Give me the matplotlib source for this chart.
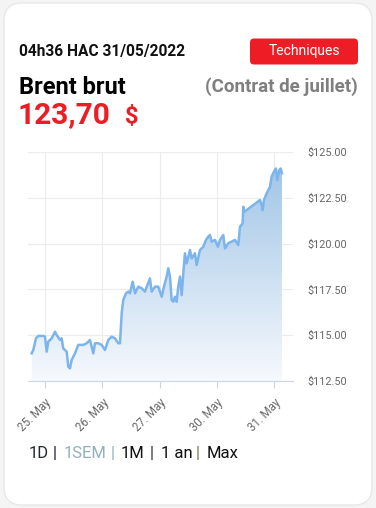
import numpy as np
import matplotlib
matplotlib.use("Agg")
import matplotlib.pyplot as plt
from matplotlib.patches import FancyBboxPatch
from matplotlib.colors import LinearSegmentedColormap

plt.rcParams['font.family'] = ['Roboto', 'DejaVu Sans']

# Brent price, x in trading days from 25 May (0 = 25 May, 4 = 31 May)
days = [-0.232, -0.204, -0.157, -0.117, -0.030, 0.000, 0.030, 0.058, 0.117, 0.175,
        0.204, 0.262, 0.291, 0.319, 0.379, 0.407, 0.436, 0.466, 0.524, 0.581,
        0.668, 0.728, 0.785, 0.815, 0.843, 0.873, 0.930, 0.990, 1.047, 1.105,
        1.164, 1.222, 1.279, 1.309, 1.339, 1.366, 1.414, 1.454, 1.483, 1.531,
        1.571, 1.628, 1.688, 1.745, 1.832, 1.862, 1.920, 1.977, 2.037, 2.077,
        2.124, 2.152, 2.182, 2.211, 2.239, 2.269, 2.298, 2.326, 2.356, 2.386,
        2.414, 2.443, 2.473, 2.531, 2.560, 2.618, 2.647, 2.705, 2.763, 2.810,
        2.850, 2.880, 2.909, 2.967, 3.019, 3.054, 3.112, 3.141, 3.199, 3.258,
        3.316, 3.373, 3.403, 3.450, 3.461, 3.478, 3.635, 3.752, 3.782, 3.799,
        3.822, 3.869, 3.927, 3.955, 3.995, 4.031, 4.054, 4.089, 4.113, 4.136]
prices = [114.01, 114.19, 114.83, 114.96, 114.96, 114.92, 114.10, 114.65, 114.83, 115.19,
          115.01, 114.74, 114.83, 114.28, 114.10, 113.28, 113.19, 113.65, 114.01, 114.47,
          114.47, 114.56, 114.74, 114.37, 114.01, 114.56, 114.56, 114.47, 114.19, 114.74,
          114.92, 114.83, 114.56, 114.56, 116.20, 116.92, 117.29, 117.38, 117.29, 117.92,
          117.29, 117.65, 117.56, 117.38, 118.10, 117.38, 117.65, 117.65, 117.10, 117.65,
          118.20, 118.65, 118.20, 116.92, 116.83, 117.10, 116.83, 117.65, 118.20, 117.19,
          118.38, 119.47, 118.92, 119.65, 119.19, 119.47, 118.83, 119.65, 119.83, 120.20,
          120.38, 120.47, 120.11, 120.20, 119.83, 120.20, 120.47, 119.74, 120.02, 120.11,
          120.20, 119.92, 120.92, 121.10, 122.01, 121.74, 122.10, 122.38, 122.10, 121.83,
          122.38, 122.74, 123.10, 123.65, 123.92, 124.10, 123.47, 124.01, 124.10, 123.84]

tick_days = [0, 1, 2, 3, 4]
tick_labels = ["25. May", "26. May", "27. May", "30. May", "31. May"]
y_ticks = [112.5, 115.0, 117.5, 120.0, 122.5, 125.0]

W, H = 376, 508
fig = plt.figure(figsize=(W / 100, H / 100), dpi=100, facecolor='#f4f4f4')

# background card in pixel coordinates
bg = fig.add_axes([0, 0, 1, 1])
bg.set_xlim(0, W)
bg.set_ylim(H, 0)
bg.axis('off')
bg.add_patch(FancyBboxPatch((4, 3), 368, 502, boxstyle="round,pad=0,rounding_size=18",
                            facecolor='white', edgecolor='#e8e8e8', lw=1))

bg.text(19, 56, "04h36 HAC 31/05/2022", fontsize=11.2, fontweight='bold', color='#111111')
bg.add_patch(FancyBboxPatch((250, 38.5), 108, 26, boxstyle="round,pad=0,rounding_size=4",
                            facecolor='#ee1c25', edgecolor='none'))
bg.text(304, 51.5, "Techniques", fontsize=10, color='white', ha='center', va='center')
bg.text(19, 94, "Brent brut", fontsize=17, fontweight='bold', color='black')
bg.text(358, 92, "(Contrat de juillet)", fontsize=13.5, fontweight='bold', color='#7f7f7f',
        ha='right')
bg.text(18, 123.5, "123,70", fontsize=21.5, fontweight='bold', color='#ee1c25')
bg.text(125, 123, "$", fontsize=17, fontweight='bold', color='#ee1c25')

periods = [(29, "1D", '#1f2b2b'), (53, "|", '#1c1c4a'), (64, "1SEM", '#93b0bb'),
           (111, "|", '#93b0bb'), (121, "1M", '#111111'), (150, "|", '#333333'),
           (161, "1 an", '#111111'), (196, "|", '#777755'), (207, "Max", '#111111')]
for x, s, c in periods:
    bg.text(x, 458, s, fontsize=12, color=c)

# chart
ax = fig.add_axes([27.5 / W, 1 - 381 / H, 265 / W, 229 / H])
ax.set_xlim(-0.305, 4.32)
ax.set_ylim(112.5, 125)
ax.patch.set_alpha(0)

poly = ax.fill_between(days, prices, 112.5, facecolor='none', edgecolor='none')
cmap = LinearSegmentedColormap.from_list('g', ['#f6f9fd', '#9cc2e5'])
grad = np.linspace(0, 1, 256).reshape(-1, 1)
im = ax.imshow(grad, extent=[-0.305, 4.32, 112.5, 125], origin='lower', aspect='auto',
               cmap=cmap, zorder=1)
im.set_clip_path(poly.get_paths()[0], transform=ax.transData)
ax.plot(days, prices, color='#7cb5ec', lw=1.8, zorder=3, solid_joinstyle='round')

ax.set_xticks(tick_days)
ax.set_xticklabels(tick_labels, rotation=45, ha='right', rotation_mode='anchor')
ax.set_yticks(y_ticks)
ax.set_yticklabels(["$%.2f" % v for v in y_ticks])
ax.yaxis.tick_right()
ax.tick_params(axis='y', length=0, pad=11, labelsize=7.8, labelcolor='#666666')
ax.tick_params(axis='x', length=5, color='#ccd6eb', pad=6, labelsize=8.3, labelcolor='#666666')
ax.grid(color='#ececec', lw=0.8, zorder=0)
ax.set_axisbelow(True)
for s in ['top', 'left', 'right']:
    ax.spines[s].set_visible(False)
ax.spines['bottom'].set_color('#ccd6eb')

fig.savefig("out.png", dpi=100, facecolor=fig.get_facecolor())
